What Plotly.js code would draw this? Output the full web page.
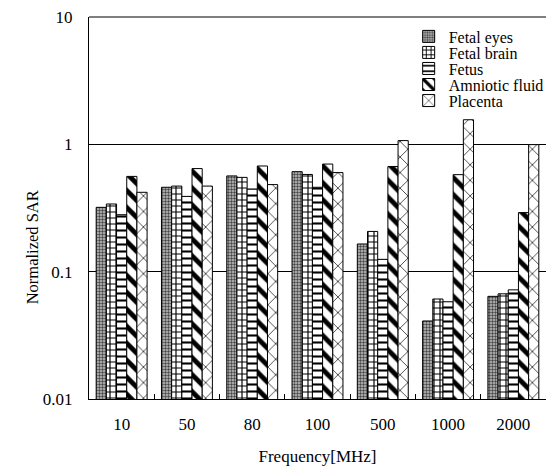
<!DOCTYPE html>
<html>
<head>
<meta charset="utf-8">
<script src="https://cdn.plot.ly/plotly-3.0.1.min.js"></script>
<style>html,body{margin:0;padding:0;background:#fff;}#chart{width:549px;height:470px;}</style>
</head>
<body>
<div id="chart"></div>
<script>
// Data
const categories = ['10', '50', '80', '100', '500', '1000', '2000'];
const seriesNames = ['Fetal eyes', 'Fetal brain', 'Fetus', 'Amniotic fluid', 'Placenta'];
const fetalEyes   = [0.32, 0.46, 0.565, 0.61, 0.165, 0.041, 0.064];
const fetalBrain  = [0.34, 0.47, 0.55, 0.58, 0.207, 0.061, 0.067];
const fetus       = [0.28, 0.39, 0.446, 0.46, 0.125, 0.058, 0.072];
const amniotic    = [0.56, 0.645, 0.676, 0.70, 0.67, 0.578, 0.291];
const placenta    = [0.42, 0.47, 0.483, 0.60, 1.07, 1.56, 0.995];
const yTickVals = [0.01, 0.1, 1, 10];
const yTickText = ['0.01', '0.1', '1', '10'];

const FONT = 'Liberation Serif';
const patterns = [
  {shape: '.', size: 3, solidity: 0.5, fgcolor: '#444', bgcolor: '#c4c4c4', fillmode: 'replace'},
  {shape: '+', size: 6, solidity: 0.35, fgcolor: '#000', bgcolor: '#fff', fillmode: 'replace'},
  {shape: '-', size: 7, solidity: 0.3, fgcolor: '#000', bgcolor: '#fff', fillmode: 'replace'},
  {shape: '\\', size: 12, solidity: 0.4, fgcolor: '#000', bgcolor: '#fff', fillmode: 'replace'},
  {shape: 'x', size: 11, solidity: 0.12, fgcolor: '#000', bgcolor: '#fff', fillmode: 'replace'}
];
const allValues = [fetalEyes, fetalBrain, fetus, amniotic, placenta];
const legendIds = ['legend', 'legend2', 'legend3', 'legend4', 'legend5'];

const traces = allValues.map((vals, i) => ({
  type: 'bar',
  name: seriesNames[i],
  x: categories,
  y: vals,
  legend: legendIds[i],
  marker: {color: '#fff', pattern: patterns[i], line: {color: '#000', width: 1}}
}));

const legendYs = [0.949, 0.907, 0.865, 0.823, 0.781];
const layout = {
  width: 549, height: 470,
  margin: {l: 89, r: 0, t: 17, b: 71, pad: 0},
  paper_bgcolor: '#fff', plot_bgcolor: '#fff',
  font: {family: FONT, size: 17, color: '#000'},
  barmode: 'group', bargap: 0.22, bargroupgap: 0,
  xaxis: {
    type: 'category',
    showline: true, linecolor: '#000', linewidth: 1,
    ticks: 'inside', tickson: 'boundaries', ticklen: 5, tickcolor: '#000', tickwidth: 1,
    ticklabelstandoff: 10,
    showgrid: false, zeroline: false,
    tickfont: {family: FONT, size: 17, color: '#000'},
    title: {text: 'Frequency[MHz]', font: {family: FONT, size: 17, color: '#000'}, standoff: 16}
  },
  yaxis: {
    type: 'log', range: [-2, 1],
    tickvals: yTickVals, ticktext: yTickText,
    showline: true, linecolor: '#000', linewidth: 1,
    ticks: '', ticklabelstandoff: 12,
    showgrid: true, gridcolor: '#000', gridwidth: 1,
    zeroline: false,
    tickfont: {family: FONT, size: 17, color: '#000'}
  },
  annotations: [{
    text: 'Normalized SAR', xref: 'paper', yref: 'paper',
    x: -0.1217, y: 0.398, xanchor: 'center', yanchor: 'middle',
    textangle: -90, showarrow: false,
    font: {family: FONT, size: 16.5, color: '#000'}
  }],
  shapes: [{type: 'line', xref: 'paper', yref: 'paper', x0: 0, x1: 1, y0: 1, y1: 1, line: {color: '#000', width: 1}}],
  showlegend: true
};
legendIds.forEach((id, i) => {
  layout[id] = {
    x: 0.6995, y: legendYs[i], xanchor: 'left', yanchor: 'middle',
    bgcolor: 'rgba(0,0,0,0)', borderwidth: 0,
    font: {family: FONT, size: 16, color: '#000'},
    itemwidth: 30
  };
});

Plotly.newPlot('chart', traces, layout, {displayModeBar: false, staticPlot: true});
</script>
</body>
</html>
